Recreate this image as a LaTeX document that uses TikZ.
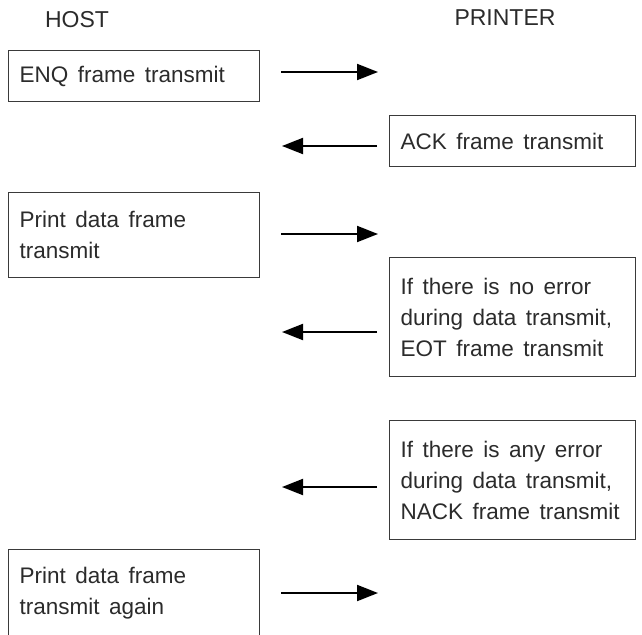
\documentclass[tikz,border=0pt]{standalone}
\usepackage{fontspec}
\setmainfont{Liberation Sans}
\usetikzlibrary{arrows.meta,positioning}
\definecolor{frgrey}{HTML}{2B2B2B}
\definecolor{frline}{HTML}{3A3A3A}
\hyphenpenalty=10000
\newcommand\frfont{\fontsize{22.5}{31}\selectfont}

\begin{document}
\begin{tikzpicture}[x=1pt,y=-1pt,
  hd/.style={font=\fontsize{23}{28}\selectfont,text=frgrey,inner sep=0pt},
  fb/.style={draw=frline,line width=1.2pt,anchor=north west,align=flush left,
             text width=#1,inner xsep=11pt,inner ysep=0pt,
             font=\frfont,text=frgrey,
             execute at begin node={\spaceskip=9.5pt\relax}},
  msg/.style={-{Triangle[length=21pt,width=16pt]},line width=2pt,draw=black}
]
\useasboundingbox (0,0) rectangle (642,634);

% column heads
\node[hd] (host) at (77,20) {HOST};
\node[hd] (prn) at (505,18) {PRINTER};

% frames
\node[fb=229pt,minimum height=51pt] (enq) at (8,50) {ENQ frame transmit};
\node[fb=224pt,minimum height=51pt] (ack) at (389,115) {ACK frame transmit};
\node[fb=229pt,minimum height=85pt] (data) at (8,192) {Print data frame\\transmit};
\node[fb=224pt,minimum height=119pt] (eot) at (389,257)
  {If there is no error\\during data transmit,\\EOT frame transmit};
\node[fb=224pt,minimum height=119pt] (nack) at (389,420)
  {If there is any error\\during data transmit,\\NACK frame transmit};
\node[fb=229pt,minimum height=87pt] (again) at (8,549) {Print data frame\\transmit again};

% messages
\coordinate (m1a) at (281,72);  \coordinate (m1b) at (378,72);
\coordinate (m2a) at (377,146); \coordinate (m2b) at (282,146);
\coordinate (m3a) at (281,234); \coordinate (m3b) at (378,234);
\coordinate (m4a) at (377,332); \coordinate (m4b) at (282,332);
\coordinate (m5a) at (377,487); \coordinate (m5b) at (282,487);
\coordinate (m6a) at (281,593); \coordinate (m6b) at (378,593);
\draw[msg] (m1a) -- (m1b);
\draw[msg] (m2a) -- (m2b);
\draw[msg] (m3a) -- (m3b);
\draw[msg] (m4a) -- (m4b);
\draw[msg] (m5a) -- (m5b);
\draw[msg] (m6a) -- (m6b);
\end{tikzpicture}
\end{document}
